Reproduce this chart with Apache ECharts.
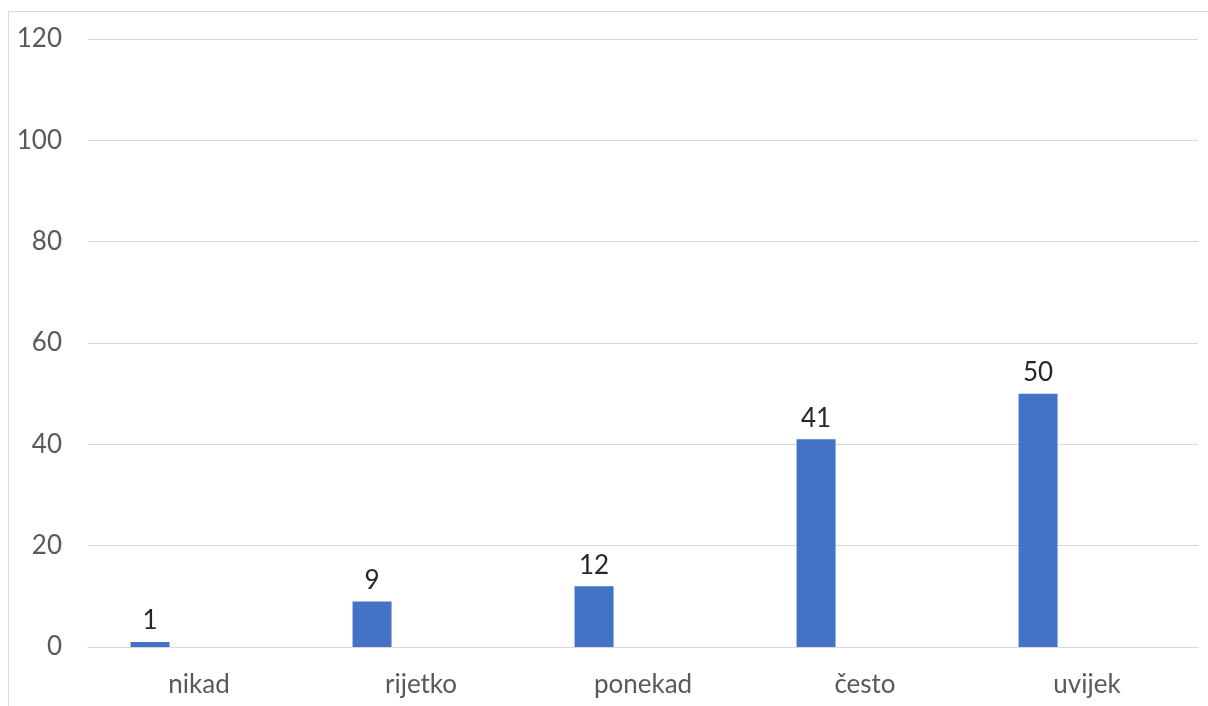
<!DOCTYPE html>
<html>
<head>
<meta charset="utf-8">
<script src="https://cdn.jsdelivr.net/npm/echarts@6/dist/echarts.min.js"></script>
<style>
    html, body { margin: 0; padding: 0; background: #fff; overflow: hidden; }
    #frame { position: absolute; left: 8px; top: 11px; width: 1300px; height: 800px; border: 1px solid #d9d9d9; pointer-events: none; }
    #container { position: absolute; left: 0; top: 0; width: 1208px; height: 706px; }
</style>
</head>
<body>
<div id="container"></div>
<div id="frame"></div>
<script>
// kategorije i vrijednosti
var categories = ['nikad', 'rijetko', 'ponekad', 'često', 'uvijek'];
var values     = [1, 9, 12, 41, 50];
var emptySeries = [null, null, null, null, null];

var dom   = document.getElementById("container");
var chart = echarts.init(dom);

var font = 'Lato, "Open Sans", sans-serif';

option = {
    animation: false,
    grid: {
        left: 88,
        right: 10,
        top: 39,
        bottom: 59
    },
    xAxis: {
        type: 'category',
        data: categories,
        axisLine: { lineStyle: { color: '#d9d9d9', width: 1 } },
        axisTick: { show: false },
        axisLabel: {
            color: '#595959',
            fontSize: 26,
            fontFamily: font,
            margin: 25
        }
    },
    yAxis: {
        type: 'value',
        min: 0,
        max: 120,
        interval: 20,
        axisLine: { show: false },
        axisTick: { show: false },
        splitLine: { lineStyle: { color: '#d9d9d9', width: 1 } },
        axisLabel: {
            color: '#595959',
            fontSize: 26,
            fontFamily: font,
            margin: 26
        }
    },
    series: [
        {
            type: 'bar',
            data: values,
            barWidth: 39,
            barGap: '151%',
            itemStyle: { color: '#4472C4' },
            label: {
                show: true,
                position: 'top',
                distance: 8,
                color: '#262626',
                fontSize: 26,
                fontFamily: font
            }
        },
        {
            type: 'bar',
            data: emptySeries,
            barWidth: 39,
            itemStyle: { color: '#ED7D31' }
        }
    ]
};

chart.setOption(option, true);
</script>
</body>
</html>
